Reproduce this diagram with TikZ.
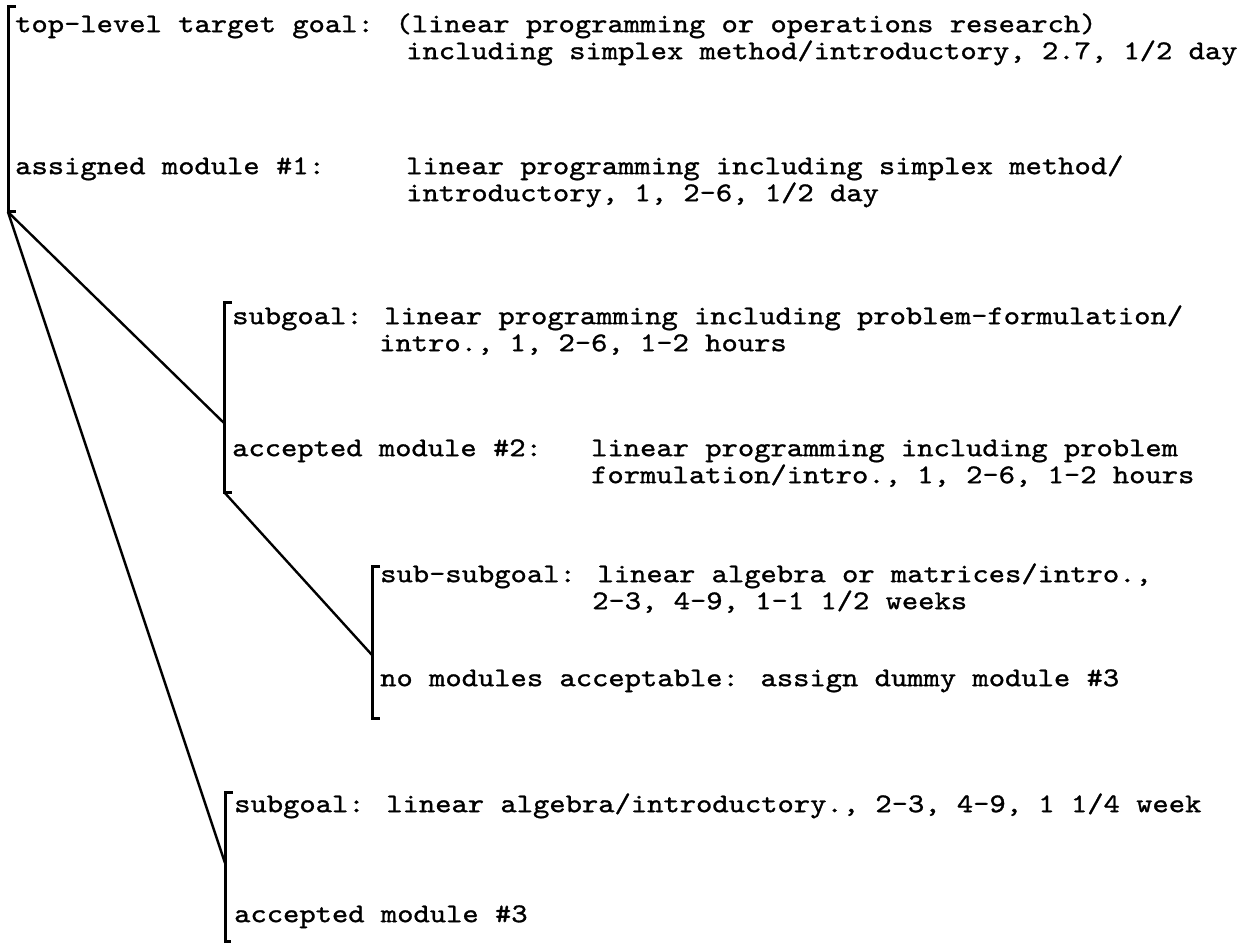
\documentclass[tikz,border=0pt]{standalone}
\usepackage{fontspec}
\usepackage{tikz}

\newfontfamily\typer{lmmono10-regular}[Extension=.otf, FakeStretch=1.15, FakeBold=1.1]

\tikzset{
  txt/.style={anchor=mid west, inner sep=0pt, font=\typer\fontsize{27}{27}\selectfont},
  brk/.style={line width=3pt},
  link/.style={line width=2.4pt, line cap=round},
}

\begin{document}
\begin{tikzpicture}[x=1pt, y=-1pt]
    \useasboundingbox[fill=white] (0,0) rectangle (1242,944);

    % top-level goal and assigned module
    \coordinate (Atop) at (8,7);
    \coordinate (Abot) at (8,212);
    \draw[brk] ([xshift=8pt]Atop) -- (Atop) -- (Abot) -- ([xshift=8pt]Abot);
    \node[txt] (a1) at (15,30) {top-level target goal: (linear programming or operations research)};
    \node[txt] (a2) at (406,57) {including simplex method/introductory, 2.7, 1/2 day};
    \node[txt] (a3) at (15,172) {assigned module \#1:};
    \node[txt] (a3b) at (406,172) {linear programming including simplex method/};
    \node[txt] (a4) at (406,199) {introductory, 1, 2-6, 1/2 day};

    % first subgoal
    \coordinate (Btop) at (224,302);
    \coordinate (Bmid) at (224,423);
    \coordinate (Bbot) at (224,492);
    \draw[brk] ([xshift=8pt]Btop) -- (Btop) -- (Bbot) -- ([xshift=8pt]Bbot);
    \node[txt] (b1) at (232,322) {subgoal: linear programming including problem-formulation/};
    \node[txt] (b2) at (379,349) {intro., 1, 2-6, 1-2 hours};
    \node[txt] (b3) at (232,454) {accepted module \#2:};
    \node[txt] (b3b) at (591,454) {linear programming including problem};
    \node[txt] (b4) at (591,481) {formulation/intro., 1, 2-6, 1-2 hours};

    % sub-subgoal
    \coordinate (Ctop) at (372,566);
    \coordinate (Cmid) at (372,655);
    \coordinate (Cbot) at (372,718);
    \draw[brk] ([xshift=8pt]Ctop) -- (Ctop) -- (Cbot) -- ([xshift=8pt]Cbot);
    \node[txt] (c1) at (380,580) {sub-subgoal: linear algebra or matrices/intro.,};
    \node[txt] (c2) at (592,607) {2-3, 4-9, 1-1 1/2 weeks};
    \node[txt] (c3) at (380,684) {no modules acceptable: assign dummy module \#3};

    % second subgoal
    \coordinate (Dtop) at (225,792);
    \coordinate (Dmid) at (225,863);
    \coordinate (Dbot) at (225,941);
    \draw[brk] ([xshift=8pt]Dtop) -- (Dtop) -- (Dbot) -- ([xshift=6pt]Dbot);
    \node[txt] (d1) at (234,810) {subgoal: linear algebra/introductory., 2-3, 4-9, 1 1/4 week};
    \node[txt] (d3) at (234,920) {accepted module \#3};

    % tree links
    \draw[link] (Abot) -- (Bmid);
    \draw[link] (Bbot) -- (Cmid);
    \draw[link] (Abot) -- (Dmid);
\end{tikzpicture}
\end{document}
